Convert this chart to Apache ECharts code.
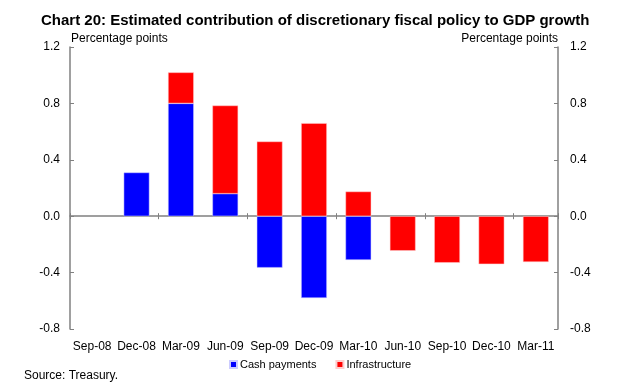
<!DOCTYPE html>
<html><head><meta charset="utf-8">
<script src="https://cdn.jsdelivr.net/npm/echarts@6/dist/echarts.min.js"></script>
<style>html,body{margin:0;padding:0;background:#fff}#c{width:640px;height:388px}</style>
</head><body><div id="c"></div>
<script>
var categories = ['Sep-08','Dec-08','Mar-09','Jun-09','Sep-09','Dec-09','Mar-10','Jun-10','Sep-10','Dec-10','Mar-11'];
var cashPayments = [null, 0.31, 0.80, 0.16, -0.365, -0.58, -0.31, null, null, null, null];
var infrastructure = [null, null, 0.22, 0.625, 0.53, 0.66, 0.175, -0.245, -0.33, -0.34, -0.325];
var yTicks = [-0.8, -0.4, 0.0, 0.4, 0.8, 1.2];

var font = 'Liberation Sans, Arial, sans-serif';
var chart = echarts.init(document.getElementById('c'));
var axisCol = '#808080';
function yAxis(pos) {
  return {
    type: 'value', position: pos, min: yTicks[0], max: yTicks[yTicks.length-1], interval: 0.4,
    axisLine: {show: true, lineStyle: {color: axisCol, width: 1.5}},
    axisTick: {show: true, inside: true, length: 4, lineStyle: {color: axisCol}},
    splitLine: {show: false},
    axisLabel: {color: '#000', fontFamily: font, fontSize: 12, margin: pos === 'left' ? 10 : 12,
      formatter: function (v) { return v.toFixed(1); }}
  };
}
chart.setOption({
  animation: false,
  title: {text: 'Chart 20: Estimated contribution of discretionary fiscal policy to GDP growth',
    left: 36, top: 8,
    textStyle: {fontFamily: font, fontSize: 15, fontWeight: 'bold', color: '#000'}},
  grid: {left: 70, right: 82, top: 47, bottom: 59, containLabel: false},
  graphic: [
    {type: 'text', left: 71, top: 33, style: {text: 'Percentage points', font: '12px ' + font, fill: '#000'}},
    {type: 'text', right: 82, top: 33, style: {text: 'Percentage points', font: '12px ' + font, fill: '#000', textAlign: 'right'}},
    {type: 'text', left: 24, top: 370, style: {text: 'Source: Treasury.', font: '12px ' + font, fill: '#000'}}
  ],
  legend: {data: ['Cash payments', 'Infrastructure'], top: 354, left: 224,
    icon: 'rect', itemWidth: 7, itemHeight: 7, itemGap: 19,
    textStyle: {fontFamily: font, fontSize: 11, color: '#000', padding: [0,0,0,-2]}},
  xAxis: [
    {type: 'category', data: categories, position: 'bottom',
      axisLine: {show: false, onZero: false}, axisTick: {show: false},
      axisLabel: {color: '#000', fontFamily: font, fontSize: 12, margin: 12, interval: 0}},
    {type: 'category', data: categories, position: 'bottom',
      axisLine: {show: true, onZero: true, lineStyle: {color: axisCol, width: 1.5}},
      axisTick: {show: true, length: 3, lineStyle: {color: axisCol}},
      axisLabel: {show: false}},
    {type: 'category', data: categories, position: 'bottom',
      axisLine: {show: false, onZero: true},
      axisTick: {show: true, inside: true, length: 3, lineStyle: {color: axisCol}},
      axisLabel: {show: false}}
  ],
  yAxis: [yAxis('left'), yAxis('right')],
  series: [
    {name: 'Cash payments', type: 'bar', stack: 'a', data: cashPayments, barWidth: '58%',
      itemStyle: {color: '#0000ff', borderColor: '#ccccff', borderWidth: 0.5}},
    {name: 'Infrastructure', type: 'bar', stack: 'a', data: infrastructure, barWidth: '58%',
      itemStyle: {color: '#ff0000', borderColor: '#ffcccc', borderWidth: 0.5}}
  ]
});
</script></body></html>
